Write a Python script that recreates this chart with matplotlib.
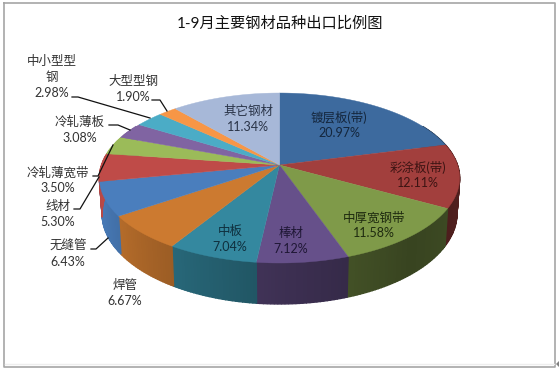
import numpy as np
import matplotlib
matplotlib.use("Agg")
import matplotlib.pyplot as plt
from matplotlib.colors import to_rgb

plt.rcParams['font.family'] = ['Lato', 'Noto Sans CJK SC', 'DejaVu Sans']

title = "1-9月主要钢材品种出口比例图"
categories = ["镀层板(带)", "彩涂板(带)", "中厚宽钢带", "棒材", "中板", "焊管", "无缝管",
              "线材", "冷轧薄宽带", "冷轧薄板", "中小型型\n钢", "大型型钢", "其它钢材"]
values = [20.97, 12.11, 11.58, 7.12, 7.04, 6.67, 6.43, 5.30, 3.50, 3.08, 2.98, 1.90, 11.34]
colors = ["#3d6a9e", "#a23f3d", "#7f9a49", "#66508a", "#34889f", "#cc7a30", "#4a7ebd",
          "#bf4b48", "#9bbb59", "#8064a2", "#4bacc6", "#f79646", "#a7b8d8"]
label_xy = [(339, 125), (418, 175), (374, 225), (291, 241), (230, 239), (125, 293), (68, 254),
            (58, 214), (58, 180), (80, 130), (52, 77), (133, 89), (248, 119)]
label_colors = ["#14263c", "#3d1413", "#1e2a0f", "#1f1735", "#0f2f3d", "#333333", "#333333",
                "#333333", "#333333", "#333333", "#333333", "#333333", "#2a3448"]
leaders = [
    [(72, 97), (78, 97), (150, 118)],
    [(152, 100), (160, 100), (167, 111)],
    [(109, 125), (118, 125), (130, 130)],
    [(93, 176), (98, 176), (113, 145)],
    [(74, 209), (80, 209), (99, 177)],
    [(91, 249), (96, 249), (108, 238)],
]
# perspective pie geometry (pixels)
CX, CY, R, S, K = 279.5, 165.0, 178.0, 83.0, 0.153
DEPTH = 34.7
shade_angle = [60, 105, 140, 180, 200, 235, 250, 300]
shade_factor = [.45, .50, .44, .60, .70, .88, .95, 1.0]


def top(theta):
    u, v = np.sin(theta), -np.cos(theta)
    w = 1 - K * v
    return CX + R * u / w, CY + S * v / w


def bottom(theta):
    u, v = np.sin(theta), -np.cos(theta)
    w = 1 - K * v
    return CX + 0.985 * R * u / w, CY + (S * v + DEPTH) / w


fig = plt.figure(figsize=(5.59, 3.71), dpi=100)
ax = fig.add_axes([0, 0, 1, 1])
ax.set_xlim(0, 559)
ax.set_ylim(371, 0)
ax.axis("off")

# frame
ax.plot([4, 555, 555, 4, 4], [3, 3, 367, 367, 3], color="#a6a6a6", lw=1.2, zorder=1)
ax.plot([5, 554], [364, 364], color="#eeeeee", lw=1, zorder=1)
ax.fill([556, 559, 559], [364, 361, 367], color="#808080", zorder=1, lw=0)

fractions = np.cumsum([0] + values) / np.sum(values) * 2 * np.pi

# side wall
for i, c in enumerate(colors):
    base = np.array(to_rgb(c))
    a0, a1 = max(fractions[i], np.radians(60)), min(fractions[i + 1], np.radians(300))
    if a1 <= a0:
        continue
    th = np.linspace(a0, a1, max(2, int(np.degrees(a1 - a0)) + 2))
    for t0, t1 in zip(th[:-1], th[1:]):
        x0, y0 = top(t0)
        x1, y1 = top(t1)
        x2, y2 = bottom(t1)
        x3, y3 = bottom(t0)
        f = np.interp(np.degrees((t0 + t1) / 2), shade_angle, shade_factor)
        col = tuple(base * f)
        ax.fill([x0, x1, x2, x3], [y0, y1, y2, y3], color=col, lw=1.0, zorder=2)

# top face
for i, c in enumerate(colors):
    th = np.linspace(fractions[i], fractions[i + 1], 80)
    x, y = top(th)
    ax.fill(np.r_[CX, x], np.r_[CY, y], color=c, lw=0.3, zorder=3)

# leader lines
for pts in leaders:
    xs, ys = zip(*pts)
    ax.plot(xs, ys, color="#111111", lw=0.9, zorder=4, solid_joinstyle="round")

# labels
for name, val, (x, y), col in zip(categories, values, label_xy, label_colors):
    ax.text(x, y, f"{name}\n{val:.2f}%", ha="center", va="center", fontsize=9,
            color=col, linespacing=1.38, zorder=5)

ax.text(280, 24, title, ha="center", va="center", fontsize=11, color="#111111", zorder=5)

fig.savefig("out.png", dpi=100)
